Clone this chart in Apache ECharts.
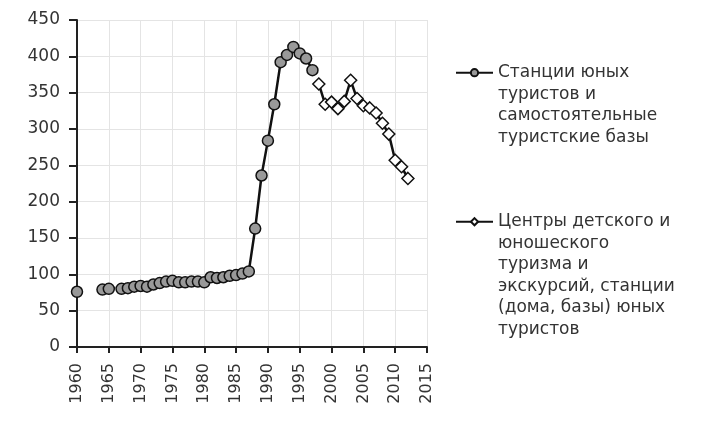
<!DOCTYPE html>
<html>
<head>
<meta charset="utf-8">
<script src="https://cdn.jsdelivr.net/npm/echarts@6/dist/echarts.min.js"></script>
<style>
  html, body { margin: 0; padding: 0; background: #fff; }
  #chart { width: 711px; height: 423px; }
</style>
</head>
<body>
<div id="chart"></div>
<script>
// станции юных туристов (null = нет данных)
var yearsStations = [1960, 1961, 1962, 1963, 1964, 1965, 1966, 1967, 1968, 1969,
  1970, 1971, 1972, 1973, 1974, 1975, 1976, 1977, 1978, 1979,
  1980, 1981, 1982, 1983, 1984, 1985, 1986, 1987, 1988, 1989,
  1990, 1991, 1992, 1993, 1994, 1995, 1996, 1997];
var valuesStations = [76, null, null, null, 79, 80, null, 80, 81, 83,
  84, 83, 86, 88, 90, 91, 89, 89, 90, 90,
  89, 96, 95, 96, 98, 99, 101, 104, 163, 236,
  284, 334, 392, 402, 413, 404, 397, 381];

// центры детского и юношеского туризма
var yearsCenters = [1998, 1999, 2000, 2001, 2002, 2003, 2004, 2005, 2006, 2007,
  2008, 2009, 2010, 2011, 2012];
var valuesCenters = [362, 334, 337, 328, 338, 367, 342, 332, 329, 322,
  308, 293, 257, 248, 232];

var nameStations = 'Станции юных\nтуристов и\nсамостоятельные\nтуристские базы';
var nameCenters = 'Центры детского и\nюношеского\nтуризма и\nэкскурсий, станции\n(дома, базы) юных\nтуристов';

var font = 'DejaVu Sans';
var textColor = '#333';
var lineH = 21.5;

function pairs(xs, ys) {
  return xs.map(function (x, i) { return [x, ys[i]]; });
}

// сдвигаем значок легенды на первую строку подписи
function legendText(name) {
  var n = name.split('\n').length;
  return new Array(n).join('\n') + name;
}

var legendCommon = {
  orient: 'vertical',
  left: 455,
  padding: 0,
  itemWidth: 37,
  itemHeight: 9,
  itemGap: 0,
  formatter: legendText,
  textStyle: {
    fontFamily: font,
    fontSize: 17,
    lineHeight: lineH,
    color: textColor
  }
};

var chart = echarts.init(document.getElementById('chart'));

var option = {
  animation: false,
  grid: {
    left: 77,
    right: 284,
    top: 20,
    bottom: 76
  },
  legend: [
    Object.assign({}, legendCommon, { data: [nameStations], top: 72.7 - 3.5 * lineH }),
    Object.assign({}, legendCommon, { data: [nameCenters], top: 221.7 - 5.5 * lineH })
  ],
  xAxis: {
    type: 'value',
    min: 1960,
    max: 2015,
    interval: 5,
    axisLine: { lineStyle: { color: '#222', width: 2 } },
    axisTick: { show: true, length: 6, lineStyle: { color: '#222', width: 2 } },
    axisLabel: {
      rotate: 90,
      margin: 16,
      fontFamily: font,
      fontSize: 16,
      color: textColor,
      formatter: function (v) { return String(v); }
    },
    splitLine: { show: true, lineStyle: { color: '#e4e4e4', width: 1 } }
  },
  yAxis: {
    type: 'value',
    min: 0,
    max: 450,
    interval: 50,
    axisLine: { show: true, lineStyle: { color: '#222', width: 2 } },
    axisTick: { show: true, length: 8, lineStyle: { color: '#222', width: 2 } },
    axisLabel: {
      margin: 17,
      fontFamily: font,
      fontSize: 17,
      color: textColor
    },
    splitLine: { show: true, lineStyle: { color: '#e4e4e4', width: 1 } }
  },
  series: [
    {
      name: nameStations,
      type: 'line',
      data: pairs(yearsStations, valuesStations),
      connectNulls: false,
      symbol: 'circle',
      symbolSize: 11,
      showAllSymbol: true,
      lineStyle: { color: '#111', width: 2.5 },
      itemStyle: { color: '#999999', borderColor: '#111', borderWidth: 1.5 },
      z: 2
    },
    {
      name: nameCenters,
      type: 'line',
      data: pairs(yearsCenters, valuesCenters),
      symbol: 'diamond',
      symbolSize: 12,
      showAllSymbol: true,
      lineStyle: { color: '#111', width: 2.5 },
      itemStyle: { color: '#ffffff', borderColor: '#111', borderWidth: 1.5 },
      z: 3
    }
  ]
};

chart.setOption(option);
</script>
</body>
</html>
